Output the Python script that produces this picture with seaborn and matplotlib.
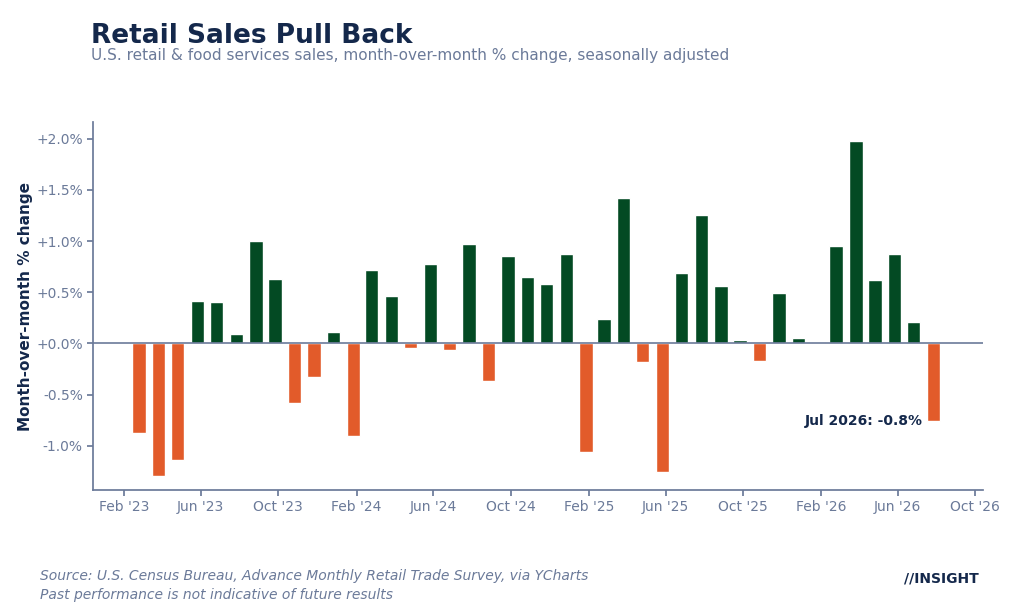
import pandas as pd
import numpy as np
import seaborn as sns
import matplotlib.pyplot as plt
import matplotlib.dates as mdates
from matplotlib.ticker import FuncFormatter

# monthly % change, Feb 2023 .. Jul 2026
months = pd.date_range("2023-02-28", "2026-07-31", freq="ME")
values = [-0.87, -1.29, -1.14, 0.41, 0.40, 0.09, 1.00, 0.63, -0.58, -0.33, 0.11,
          -0.90, 0.72, 0.46, -0.04, 0.78, -0.06, 0.97, -0.37, 0.85, 0.65, 0.58, 0.87,
          -1.06, 0.24, 1.42, -0.18, -1.25, 0.69, 1.25, 0.56, 0.03, -0.17, 0.49, 0.05,
          0.01, 0.95, 1.98, 0.62, 0.87, 0.21, -0.76]
last_label = "Jul 2026: -0.8%"

GREEN = "#034a23"
ORANGE = "#e25b2a"
NAVY = "#14284b"
GRAY = "#6b7a99"

df = pd.DataFrame({"x": mdates.date2num(months - pd.Timedelta(days=4)), "v": values})
df["sign"] = np.where(df["v"] >= 0, "pos", "neg")

sns.set_theme(style="white")
plt.rcParams["font.family"] = ["DejaVu Sans"]
fig = plt.figure(figsize=(10.24, 6.14), dpi=100)
ax = fig.add_axes([0.091, 0.202, 0.869, 0.599])

sns.barplot(data=df, x="x", y="v", hue="sign", palette={"pos": GREEN, "neg": ORANGE},
            native_scale=True, width=0.75, legend=False, ax=ax, saturation=1)

ax.axhline(0, color=GRAY, linewidth=1.2)
ax.set_xlim(mdates.date2num(pd.Timestamp("2022-12-14")), mdates.date2num(pd.Timestamp("2026-10-13")))
ax.set_ylim(-1.43, 2.16)
ax.xaxis.set_major_locator(mdates.MonthLocator(bymonth=[2, 6, 10]))
ax.xaxis.set_major_formatter(mdates.DateFormatter("%b '%y"))
ax.set_yticks([-1.0, -0.5, 0.0, 0.5, 1.0, 1.5, 2.0])
ax.yaxis.set_major_formatter(FuncFormatter(lambda v, p: f"{v:+.1f}%" if v != 0 else "+0.0%"))
ax.tick_params(axis="both", colors=GRAY, labelsize=10, length=4, left=True, bottom=True)
for s in ["top", "right"]:
    ax.spines[s].set_visible(False)
for s in ["left", "bottom"]:
    ax.spines[s].set_color(GRAY)
ax.set_xlabel("")
ax.set_ylabel("Month-over-month % change", color=NAVY, fontsize=11, fontweight="bold", labelpad=2)

ax.annotate(last_label, xy=(df["x"].iloc[-1] - 8, values[-1]), xytext=(-4, 0),
            textcoords="offset points", ha="right", va="center",
            color=NAVY, fontsize=10, fontweight="bold")

fig.text(0.089, 0.93, "Retail Sales Pull Back", fontsize=19, fontweight="bold", color=NAVY)
fig.text(0.089, 0.903, "U.S. retail & food services sales, month-over-month % change, seasonally adjusted",
         fontsize=11, color=GRAY)
fig.text(0.039, 0.055, "Source: U.S. Census Bureau, Advance Monthly Retail Trade Survey, via YCharts",
         fontsize=10, color=GRAY, style="italic")
fig.text(0.039, 0.025, "Past performance is not indicative of future results",
         fontsize=10, color=GRAY, style="italic")
fig.text(0.883, 0.052, "//INSIGHT", fontsize=10, color=NAVY, fontweight="bold")

fig.savefig("out.png", dpi=100)
